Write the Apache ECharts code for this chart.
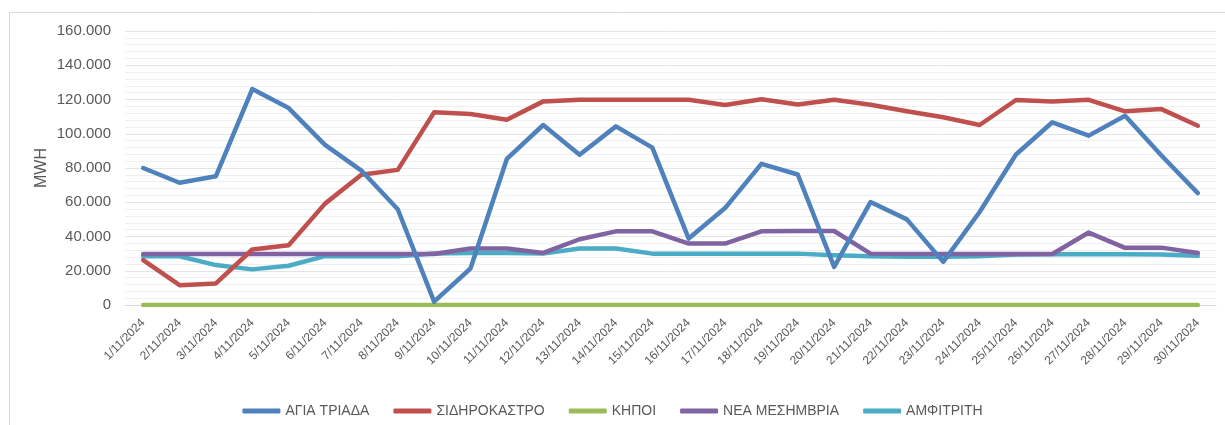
<!DOCTYPE html>
<html>
<head>
<meta charset="utf-8">
<script src="https://cdn.jsdelivr.net/npm/echarts@6/dist/echarts.min.js"></script>
<style>
html,body{margin:0;padding:0;background:#fff;}
#c{width:1225px;height:425px;}
</style>
</head>
<body>
<div id="c"></div>
<script>
var categories = ['1/11/2024','2/11/2024','3/11/2024','4/11/2024','5/11/2024','6/11/2024','7/11/2024','8/11/2024','9/11/2024','10/11/2024',
  '11/11/2024','12/11/2024','13/11/2024','14/11/2024','15/11/2024','16/11/2024','17/11/2024','18/11/2024','19/11/2024','20/11/2024',
  '21/11/2024','22/11/2024','23/11/2024','24/11/2024','25/11/2024','26/11/2024','27/11/2024','28/11/2024','29/11/2024','30/11/2024'];

var agiaTriada = [80000,71400,75200,126100,115000,93500,78500,55900,2000,21300,
  85300,105100,87700,104300,91900,38800,56600,82400,76200,22300,
  60100,50000,25200,54300,87900,106700,98900,110500,87300,65300];

var sidirokastro = [26200,11600,12600,32400,34900,59200,76000,78900,112500,111500,
  108200,118900,119800,119800,119800,119800,116800,120200,117100,119800,
  116900,113100,109600,105100,119700,118900,119800,113100,114400,104700];

var kipoi = [0,0,0,0,0,0,0,0,0,0,0,0,0,0,0,0,0,0,0,0,0,0,0,0,0,0,0,0,0,0];

var neaMesimvria = [29800,29800,29800,29800,29800,29800,29800,29800,29800,33000,
  33000,30400,38400,43000,43000,35900,35900,43000,43200,43200,
  30000,29800,29800,29800,29800,29800,42300,33400,33500,30400];

var amfitriti = [28500,28500,23300,20800,22900,28500,28500,28500,30100,30400,
  30400,30000,33000,33000,30000,30000,30000,30000,30000,29100,
  28500,28200,28200,28500,29500,29700,29700,29700,29500,28700];

var seriesNames = ['ΑΓΙΑ ΤΡΙΑΔΑ','ΣΙΔΗΡΟΚΑΣΤΡΟ','ΚΗΠΟΙ','ΝΕΑ ΜΕΣΗΜΒΡΙΑ','ΑΜΦΙΤΡΙΤΗ'];
var seriesData = [agiaTriada, sidirokastro, kipoi, neaMesimvria, amfitriti];
var colors = ['#4F81BD','#C0504D','#9BBB59','#8064A2','#4BACC6'];

function fmt(v){
  if (v === 0) return '0';
  var s = String(Math.round(v));
  return s.replace(/\B(?=(\d{3})+(?!\d))/g, '.');
}

var chart = echarts.init(document.getElementById('c'), null, {renderer:'canvas'});
var font = 'Liberation Sans, Arial, sans-serif';
chart.setOption({
  animation: false,
  color: colors,
  graphic: [{
    type: 'rect', left: 7, top: 10, z: -10,
    shape: {width: 1240, height: 440},
    style: {fill: 'none', stroke: '#d9d9d9', lineWidth: 1}
  }],
  grid: {left: 125, right: 9, top: 31, bottom: 120},
  legend: {
    top: 399, left: 'center',
    icon: 'roundRect', itemWidth: 38, itemHeight: 5, itemGap: 24,
    textStyle: {fontFamily: font, fontSize: 14, color: '#595959'},
    data: seriesNames
  },
  xAxis: {
    type: 'category', data: categories, boundaryGap: true,
    axisLine: {show: true, lineStyle: {color: '#d9d9d9'}},
    axisTick: {show: false},
    axisLabel: {rotate: 45, interval: 0, fontFamily: font, fontSize: 12, color: '#595959', margin: 16}
  },
  yAxis: {
    type: 'value', min: 0, max: 160000, interval: 20000,
    name: 'MWH', nameLocation: 'middle', nameGap: 75, nameRotate: 90, nameMoveOverlap: false,
    nameTextStyle: {fontFamily: font, fontSize: 16, color: '#595959'},
    axisLine: {show: false}, axisTick: {show: false},
    axisLabel: {formatter: fmt, fontFamily: font, fontSize: 15, color: '#595959', margin: 14},
    splitLine: {show: true, lineStyle: {color: '#e4e4e4', width: 1}},
    minorTick: {show: false, splitNumber: 5},
    minorSplitLine: {show: true, lineStyle: {color: '#efefef', width: 1}}
  },
  series: seriesNames.map(function(n, i){
    return {
      name: n, type: 'line', data: seriesData[i],
      symbol: 'none', smooth: false,
      lineStyle: {width: 4.5, color: colors[i], cap: 'round', join: 'round'},
      itemStyle: {color: colors[i]},
      z: [5,4,3,2,1][i] + 2
    };
  })
});
</script>
</body>
</html>
